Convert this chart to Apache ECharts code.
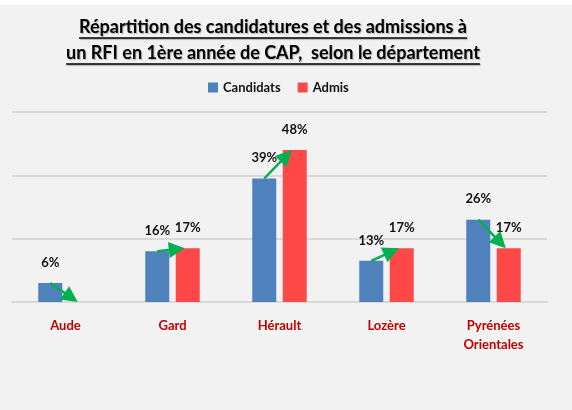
<!DOCTYPE html>
<html>
<head>
<meta charset="utf-8">
<script src="https://cdn.jsdelivr.net/npm/echarts@6/dist/echarts.min.js"></script>
<style>
  html, body { margin: 0; padding: 0; background: #ffffff; }
  #chart { position: absolute; left: 0; top: 5px; width: 572px; height: 405px; }
</style>
</head>
<body>
<div id="chart"></div>
<script>
// Departments and shares (%) of applicants vs admitted students
const departements = ['Aude', 'Gard', 'Hérault', 'Lozère', 'Pyrénées\nOrientales'];
const candidats = [6, 16, 39, 13, 26];
const admis = [0, 17, 48, 17, 17];
const titleLines = [
  'Répartition des candidatures et des admissions à',
  'un RFI en 1ère année de CAP,  selon le département'
];

const FONT = 'Lato, "Open Sans", sans-serif';
const BAR_W = 24;
const BAR_GAP = 0.27;
const ARROW_COLOR = '#00b050';

const chart = echarts.init(document.getElementById('chart'), null, { renderer: 'canvas' });

// Width of a title line, used to size its underline
function textWidth(str, font) {
  const c = document.createElement('canvas').getContext('2d');
  c.font = font;
  return c.measureText(str).width;
}

const titleFont = 'bold 18px ' + FONT;
const titleGraphics = [];
titleLines.forEach((line, i) => {
  const cy = 22 + i * 26;
  const w = textWidth(line, titleFont);
  titleGraphics.push({
    type: 'text',
    x: 273, y: cy,
    style: {
      text: line,
      font: titleFont,
      fill: '#000000',
      align: 'center',
      verticalAlign: 'middle',
      textShadowColor: 'rgba(0,0,0,0.25)',
      textShadowOffsetX: 1,
      textShadowOffsetY: 1,
      textShadowBlur: 1
    }
  });
  titleGraphics.push({
    type: 'line',
    shape: { x1: 273 - w / 2, y1: cy + 11, x2: 273 + w / 2, y2: cy + 11 },
    style: { stroke: '#000000', lineWidth: 1.5, shadowColor: 'rgba(0,0,0,0.3)', shadowOffsetX: 1, shadowOffsetY: 1, shadowBlur: 1 }
  });
});

// Arrow from the top of each applicants bar to the top of the matching admitted bar
function renderArrow(params, api) {
  const idx = api.value(0);
  const half = BAR_W * (1 + BAR_GAP) / 2;
  const p0 = api.coord([idx, api.value(1)]);
  const p1 = api.coord([idx, api.value(2)]);
  const x0 = p0[0] - half, y0 = p0[1];
  const x1 = p1[0] + half - 3, y1 = p1[1];
  const dx = x1 - x0, dy = y1 - y0;
  const len = Math.sqrt(dx * dx + dy * dy);
  const ux = dx / len, uy = dy / len;
  const headL = 16, headW = 8;
  const bx = x1 - ux * headL, by = y1 - uy * headL;
  return {
    type: 'group',
    children: [
      {
        type: 'line',
        shape: { x1: x0, y1: y0, x2: bx + ux * 2, y2: by + uy * 2 },
        style: { stroke: ARROW_COLOR, lineWidth: 2.5 }
      },
      {
        type: 'polygon',
        shape: {
          points: [
            [x1, y1],
            [bx - uy * headW, by + ux * headW],
            [bx + uy * headW, by - ux * headW]
          ]
        },
        style: { fill: ARROW_COLOR }
      }
    ]
  };
}

const labelStyle = {
  show: true,
  position: 'top',
  distance: 14,
  fontFamily: FONT,
  fontWeight: 'bold',
  fontSize: 13,
  color: '#111111',
  formatter: p => (p.value ? p.value + '%' : '')
};

chart.setOption({
  backgroundColor: '#f2f2f2',
  animation: false,
  graphic: titleGraphics,
  legend: {
    top: 71,
    left: 203,
    icon: 'rect',
    itemWidth: 10,
    itemHeight: 10,
    itemGap: 17,
    textStyle: { fontFamily: FONT, fontWeight: 'bold', fontSize: 13, color: '#111111' },
    data: ['Candidats', 'Admis']
  },
  grid: { left: 12, right: 25, top: 107, bottom: 108 },
  xAxis: {
    type: 'category',
    data: departements,
    axisLine: { lineStyle: { color: '#d9d9d9', width: 2 } },
    axisTick: { show: false },
    axisLabel: {
      margin: 14,
      fontFamily: FONT,
      fontWeight: 'bold',
      fontSize: 13,
      lineHeight: 19,
      color: '#c00000',
      interval: 0
    }
  },
  yAxis: {
    type: 'value',
    min: 0,
    max: 60,
    interval: 20,
    axisLabel: { show: false },
    axisLine: { show: false },
    axisTick: { show: false },
    splitLine: { lineStyle: { color: '#d9d9d9', width: 2 } }
  },
  series: [
    {
      name: 'Candidats',
      type: 'bar',
      data: candidats,
      barWidth: BAR_W,
      barGap: (BAR_GAP * 100) + '%',
      itemStyle: { color: '#4f81bd' },
      label: labelStyle
    },
    {
      name: 'Admis',
      type: 'bar',
      data: admis,
      barWidth: BAR_W,
      itemStyle: { color: '#ff4848' },
      label: labelStyle
    },
    {
      name: 'Évolution',
      type: 'custom',
      renderItem: renderArrow,
      data: departements.map((d, i) => [i, candidats[i], admis[i]]),
      z: 10,
      silent: true
    }
  ]
});
</script>
</body>
</html>
